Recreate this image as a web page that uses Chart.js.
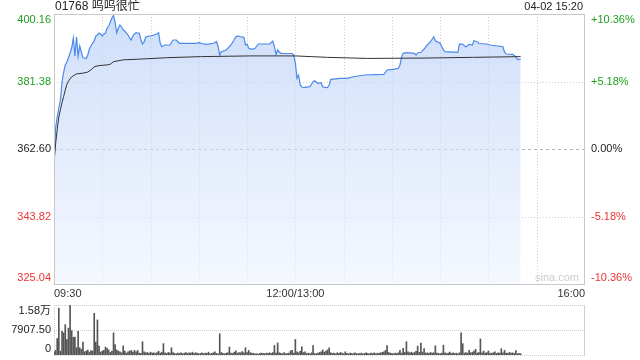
<!DOCTYPE html>
<html><head><meta charset="utf-8">
<script src="https://cdn.jsdelivr.net/npm/chart.js@4/dist/chart.umd.min.js"></script>
<style>
html,body{margin:0;padding:0;background:#fff;width:640px;height:360px;overflow:hidden}
#c1{position:absolute;left:0;top:0}
#c2{position:absolute;left:0;top:300px}
</style></head><body>
<canvas id="c1" width="640" height="300"></canvas>
<canvas id="c2" width="640" height="60"></canvas>
<script>
const titleText = '01768 呜呜很忙';
const timeText = '04-02 15:20';
const prevClose = 362.60;
const yTicks = [325.04, 343.82, 362.60, 381.38, 400.16];
const pctTicks = ['-10.36%', '-5.18%', '0.00%', '+5.18%', '+10.36%'];
const xTickMinutes = [0, 150, 330];
const xTickText = ['09:30', '12:00/13:00', '16:00'];
const gridMinutes = [30, 60, 90, 120, 150, 180, 210, 240, 270, 300];
const volTicks = [0, 7907.5, 15815];
const volTickText = ['0', '7907.50', '1.58万'];

const priceMin = [0,1,2,3,4,5,6,7,8,9,
  10,11,12,13,14,15,16,17,18,19,
  20,21,22,23,24,25,26,27,28,29,
  30,31,32,33,34,35,36,37,38,39,
  40,41,42,43,44,45,46,47,48,49,
  50,51,52,53,54,55,56,57,58,59,
  60,62,64,65,66,67,69,72,74,76,
  78,88,90,92,95,99,101,102,103,104,
  107,110,113,114,116,118,119,120,121,123,
  125,127,134,136,137,138,139,140,141,148,
  149,150,151,152,153,154,155,159,161,162,
  164,166,167,169,170,171,172,178,182,186,
  193,205,206,207,211,214,215,216,217,219,
  224,225,226,228,230,232,234,236,237,240,
  242,243,251,252,254,256,258,260,261,263,
  264,269,271,276,279,280,281,285,287,288,
  290];
const prices = [358.71,368.44,371.50,374.01,376.23,381.24,384.02,386.00,386.80,388.00,
  389.31,390.70,393.48,388.47,393.76,388.47,391.26,389.59,387.92,387.92,
  387.78,388.75,390.42,391.26,392.09,392.65,394.04,394.32,394.87,394.60,
  394.04,394.60,394.87,396.27,396.82,397.93,399.05,399.74,397.66,394.87,
  396.27,397.10,396.54,395.71,395.43,394.87,394.32,393.48,392.93,394.04,
  394.60,394.96,394.87,394.79,392.93,391.81,392.37,393.76,393.90,394.04,
  394.04,394.32,394.60,394.96,392.01,391.06,391.54,391.54,392.93,392.93,
  392.01,392.01,392.18,391.95,391.73,392.01,392.45,391.06,388.75,389.67,
  390.14,391.54,393.76,394.04,393.84,393.68,391.54,391.81,390.62,390.34,
  390.62,391.81,391.81,392.65,391.06,388.95,390.14,389.59,389.23,389.17,
  388.75,386.50,382.27,383.19,380.41,379.85,379.66,379.93,381.32,381.60,
  380.88,381.05,379.93,379.66,379.71,380.41,381.99,382.27,382.27,382.71,
  383.19,383.38,384.02,384.58,384.77,385.05,385.97,388.20,389.23,389.39,
  389.23,388.75,389.31,389.50,390.42,391.54,392.45,393.84,392.73,392.01,
  390.14,389.67,389.50,391.81,391.73,390.98,391.73,391.54,392.73,392.45,
  391.95,391.81,391.54,391.26,391.06,389.59,389.03,388.95,388.28,387.56,
  387.56];

const avgMin = [0,1,2,3,4,5,6,7,8,9,11,14,18,21,23,25,28,33,35,37,43,53,70,91,122,150,170,195,230,260,290];
const avgPrices = [358.71,364.0,368.0,371.5,373.5,375.5,377.2,379.0,380.6,381.5,382.7,383.5,383.7,384.0,384.6,385.5,385.8,386.0,386.2,386.9,387.4,387.6,388.0,388.3,388.5,388.5,388.1,387.8,387.9,388.1,388.3];

const volumes = [
  900,1500,5200,14800,1200,7500,7000,9600,4900,8500,
  15800,7700,5600,5700,2300,7500,2300,1800,4100,1000,
  1250,1550,900,1400,1250,13200,4100,11100,2800,900,
  1250,1450,2500,2100,1600,800,1250,7000,3300,1600,
  1250,1000,700,2900,1250,600,1000,1250,1450,900,
  1450,1000,1450,600,500,4200,1000,700,800,500,
  900,600,700,500,800,1200,600,900,3600,700,
  500,800,600,2300,800,500,400,600,500,700,
  400,600,800,500,700,600,900,500,700,600,
  400,500,700,400,600,500,900,400,500,700,
  1000,500,400,6700,800,500,400,600,700,2500,
  600,500,900,1300,600,800,700,1100,700,2300,
  800,1450,700,600,500,400,400,300,500,600,
  500,400,600,500,700,500,800,3000,600,3800,
  700,500,400,800,400,500,600,1300,1450,600,
  4900,1000,700,1200,2600,800,1000,500,600,400,
  700,3000,500,400,600,800,1000,1600,900,1250,
  1600,2300,700,500,600,400,700,500,800,600,
  400,1000,500,400,600,500,400,700,500,400,
  500,600,400,500,700,500,400,600,500,700,
  400,600,500,700,800,1000,1450,3000,800,600,
  500,400,600,500,700,1450,600,2100,800,4200,
  1000,700,900,600,800,1200,2800,800,3800,900,
  2000,600,700,500,800,600,700,2900,600,500,
  400,600,3100,700,500,600,900,500,700,500,
  600,400,700,7000,3600,600,800,600,1450,700,
  900,1250,1800,600,800,5100,700,1250,600,800,
  1250,500,600,700,1000,500,700,600,2000,700,
  1450,600,500,800,600,700,500,1400,400,500,
  400];

const FONT = '"Liberation Sans", Arial, "Noto Sans CJK SC", sans-serif';
const GREEN = '#1f9f1f', RED = '#ee3333', BLACK = '#222';

function hline(ctx, x1, x2, y) { ctx.beginPath(); ctx.moveTo(x1, y); ctx.lineTo(x2, y); ctx.stroke(); }
function vline(ctx, x, y1, y2) { ctx.beginPath(); ctx.moveTo(x, y1); ctx.lineTo(x, y2); ctx.stroke(); }

const mainPlugin = {
  id: 'mainDeco',
  beforeDatasetsDraw(chart) {
    const { ctx, chartArea: a, scales: { x, y } } = chart;
    ctx.save();
    ctx.lineWidth = 1;
    ctx.strokeStyle = '#cfcfcf';
    ctx.setLineDash([1, 2]);
    gridMinutes.forEach(m => { const px = Math.round(x.getPixelForValue(m)) + 0.5; vline(ctx, px, a.top, a.bottom); });
    [yTicks[1], yTicks[3]].forEach(v => { const py = Math.round(y.getPixelForValue(v)) + 0.5; hline(ctx, a.left, a.right, py); });
    ctx.strokeStyle = '#b5b5b5';
    ctx.setLineDash([3, 3]);
    const pz = Math.round(y.getPixelForValue(prevClose)) + 0.5;
    hline(ctx, a.left, a.right, pz);
    ctx.restore();
  },
  afterDraw(chart) {
    const { ctx, chartArea: a, scales: { y } } = chart;
    ctx.save();
    ctx.strokeStyle = '#c8c8c8';
    ctx.lineWidth = 1;
    ctx.strokeRect(Math.round(a.left) + 0.5, Math.round(a.top) + 0.5, Math.round(a.right - a.left) - 1, Math.round(a.bottom - a.top));
    ctx.font = '11px ' + FONT;
    yTicks.forEach((v, i) => {
      const py = y.getPixelForValue(v);
      let yy = py;
      if (i === 0) yy = py - 6; else if (i === yTicks.length - 1) yy = py + 6;
      ctx.textBaseline = 'middle';
      ctx.fillStyle = v > prevClose + 0.001 ? GREEN : (v < prevClose - 0.001 ? RED : BLACK);
      ctx.textAlign = 'right';
      ctx.fillText(v.toFixed(2), a.left - 3, yy);
      ctx.textAlign = 'left';
      ctx.fillText(pctTicks[i], a.right + 6, yy);
    });
    ctx.font = '12px ' + FONT;
    ctx.fillStyle = BLACK;
    ctx.textBaseline = 'middle';
    ctx.textAlign = 'left';
    ctx.fillText(titleText, a.left + 1, 7);
    ctx.font = '11px ' + FONT;
    ctx.textAlign = 'right';
    ctx.fillText(timeText, a.right - 2, 7);
    ctx.fillStyle = '#cccccc';
    ctx.fillText('sina.com', a.right - 6, a.bottom - 6);
    ctx.restore();
  }
};

new Chart(document.getElementById('c1'), {
  type: 'line',
  data: {
    datasets: [
      {
        data: avgMin.map((m, i) => ({ x: m, y: avgPrices[i] })),
        borderColor: '#333333', borderWidth: 1, pointRadius: 0, fill: false, tension: 0, order: 1
      },
      {
        data: priceMin.map((m, i) => ({ x: m, y: prices[i] })),
        borderColor: '#4b89ea', borderWidth: 1.2, pointRadius: 0, tension: 0, fill: 'start', order: 2,
        backgroundColor: (c) => {
          const ch = c.chart, a = ch.chartArea;
          if (!a) return 'rgba(200,220,250,0.5)';
          const g = ch.ctx.createLinearGradient(0, a.top, 0, a.bottom);
          g.addColorStop(0, 'rgba(185,208,247,0.7)');
          g.addColorStop(1, 'rgba(236,242,254,0.55)');
          return g;
        }
      }
    ]
  },
  options: {
    responsive: false, animation: false, events: [],
    plugins: { legend: { display: false }, tooltip: { enabled: false } },
    layout: { padding: { top: 14, left: 0, right: 0, bottom: 0 } },
    scales: {
      x: {
        type: 'linear', min: 0, max: 330,
        afterFit(s) { s.height = 16; },
        grid: { display: false, drawTicks: false }, border: { display: false },
        ticks: {
          stepSize: 30, autoSkip: false, maxRotation: 0, align: 'inner', padding: 3,
          color: '#333', font: { family: FONT, size: 11 },
          callback(v) { const i = xTickMinutes.indexOf(v); return i >= 0 ? xTickText[i] : ''; }
        }
      },
      y: {
        position: 'left', min: yTicks[0], max: yTicks[yTicks.length - 1],
        afterFit(s) { s.width = 54; },
        ticks: { display: false }, grid: { display: false }, border: { display: false }
      },
      y2: {
        position: 'right', min: yTicks[0], max: yTicks[yTicks.length - 1],
        afterFit(s) { s.width = 55; },
        ticks: { display: false }, grid: { display: false }, border: { display: false }
      }
    }
  },
  plugins: [mainPlugin]
});

const volPlugin = {
  id: 'volDeco',
  beforeDatasetsDraw(chart) {
    const { ctx, chartArea: a, scales: { y } } = chart;
    ctx.save();
    ctx.lineWidth = 1;
    ctx.strokeStyle = '#cfcfcf';
    ctx.setLineDash([1, 1]);
    volTicks.forEach(v => { const py = Math.round(y.getPixelForValue(v)) + 0.5; hline(ctx, a.left, a.right, py); });
    vline(ctx, Math.round(a.left) + 0.5, a.top, a.bottom);
    ctx.setLineDash([]);
    ctx.strokeStyle = '#d0d0d0';
    vline(ctx, Math.round(a.right) - 0.5, a.top, a.bottom + 1);
    ctx.restore();
  },
  afterDraw(chart) {
    const { ctx, chartArea: a, scales: { y } } = chart;
    ctx.save();
    ctx.font = '11px ' + FONT;
    ctx.fillStyle = BLACK;
    ctx.textAlign = 'right';
    ctx.textBaseline = 'middle';
    volTicks.forEach((v, i) => {
      let py = y.getPixelForValue(v);
      if (i === 0) py -= 6; else if (i === volTicks.length - 1) py += 6;
      ctx.fillText(volTickText[i], a.left - 3, py);
    });
    ctx.restore();
  }
};

new Chart(document.getElementById('c2'), {
  type: 'bar',
  data: {
    datasets: [{
      data: volumes.map((v, i) => ({ x: i, y: v })),
      backgroundColor: '#555555', barThickness: 1, grouped: false
    }]
  },
  options: {
    responsive: false, animation: false, events: [],
    plugins: { legend: { display: false }, tooltip: { enabled: false } },
    layout: { padding: { top: 5, bottom: 5, left: 0, right: 55 } },
    scales: {
      x: { type: 'linear', min: 0, max: 330, offset: false, display: false },
      y: {
        position: 'left', min: volTicks[0], max: volTicks[volTicks.length - 1],
        afterFit(s) { s.width = 54; },
        ticks: { display: false }, grid: { display: false }, border: { display: false }
      }
    }
  },
  plugins: [volPlugin]
});
</script>
</body></html>
